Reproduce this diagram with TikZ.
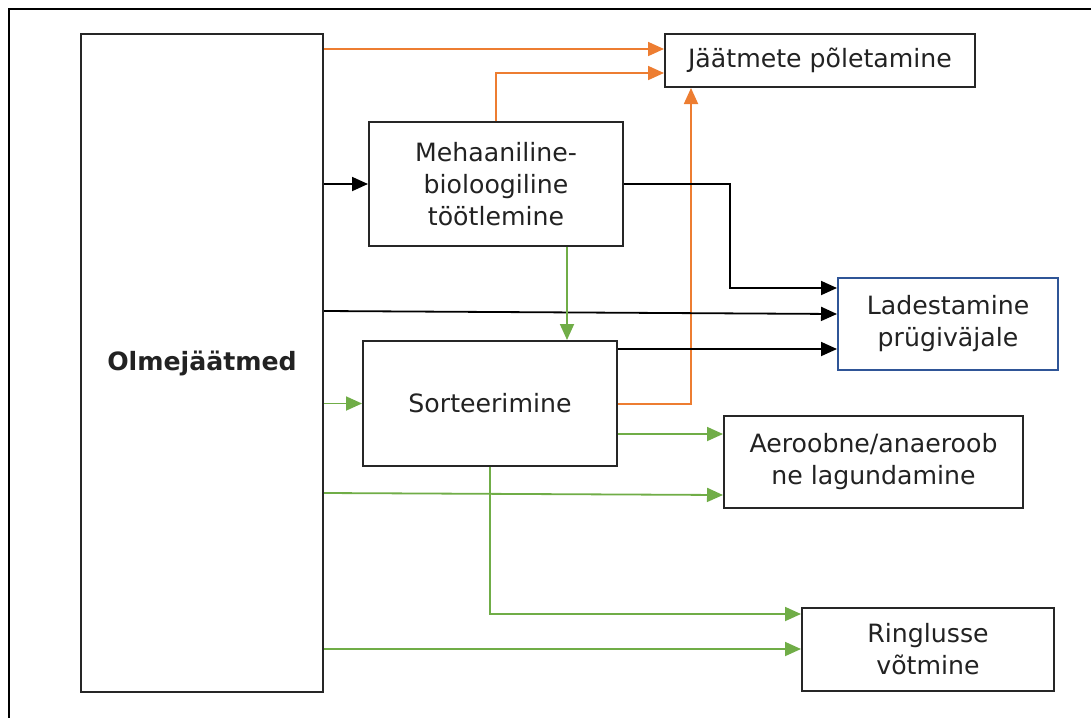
\documentclass[tikz,border=0pt]{standalone}
\usepackage{fontspec}
\setmainfont{DejaVu Sans}
\usetikzlibrary{arrows.meta,calc}
\definecolor{orng}{HTML}{ED7D31}
\definecolor{grn}{HTML}{70AD47}
\definecolor{bluebd}{HTML}{2F5597}
\definecolor{txt}{HTML}{222222}
\begin{document}
\begin{tikzpicture}[x=0.5pt,y=-0.5pt,
  box/.style={draw=black!85,line width=1pt,inner sep=0pt,align=center,
    text=txt,font=\fontsize{12.6}{16}\selectfont},
  conn/.style={line width=0.9pt,-{Triangle[length=8pt,width=7pt]}},
  oarr/.style={conn,draw=orng},
  garr/.style={conn,draw=grn},
  karr/.style={conn,draw=black}]
\useasboundingbox (0,0) rectangle (1091,718);
\draw[line width=1pt] (1091,9) -- (8.5,9) -- (8.5,718);
% nodes
\node[box,minimum width=121pt,minimum height=329pt] (olme) at (202,363) {\bfseries Olmejäätmed};
\node[box,minimum width=127pt,minimum height=62pt] (meh) at (496,184) {Mehaaniline-\\bioloogiline\\töötlemine};
\node[box,minimum width=155pt,minimum height=26.5pt] (jaat) at (820,60.5) {Jäätmete põletamine};
\node[box,draw=bluebd,minimum width=110pt,minimum height=46pt] (lad) at (948,324) {Ladestamine\\prügiväjale};
\node[box,minimum width=127pt,minimum height=62.5pt] (sort) at (490,403.5) {Sorteerimine};
\node[box,minimum width=149.5pt,minimum height=46pt] (aer) at (873.5,462) {Aeroobne/anaeroob\\ne lagundamine};
\node[box,minimum width=126pt,minimum height=41.5pt] (ring) at (928,649.5) {Ringlusse\\võtmine};
\coordinate (c1) at (691,404);
\coordinate (c2) at (730,184);
\coordinate (c3) at (730,288);
% orange
\draw[oarr] (olme.east |- 0,49) -- (jaat.west |- 0,49);
\draw[oarr] (meh.north) |- (jaat.west |- 0,73);
\draw[oarr] (sort.east |- c1) -- (c1) -- (c1 |- jaat.south);
% black
\draw[karr] (olme.east |- meh.west) -- (meh.west);
\draw[karr] (meh.east) -- (c2) -- (c3) -- (lad.west |- c3);
\draw[karr] (olme.east |- 0,311) -- (lad.west |- 0,314);
\draw[karr] (sort.east |- 0,349) -- (lad.west |- 0,349);
% green
\draw[garr] (meh.south -| 567,0) -- (sort.north -| 567,0);
\draw[garr] (olme.east |- sort.west) -- (sort.west);
\draw[garr] (sort.east |- 0,434) -- (aer.west |- 0,434);
\draw[garr] (olme.east |- 0,493) -- (aer.west |- 0,495);
\draw[garr] (sort.south) |- (ring.west |- 0,614);
\draw[garr] (olme.east |- 0,649) -- (ring.west |- 0,649);
\end{tikzpicture}
\end{document}
